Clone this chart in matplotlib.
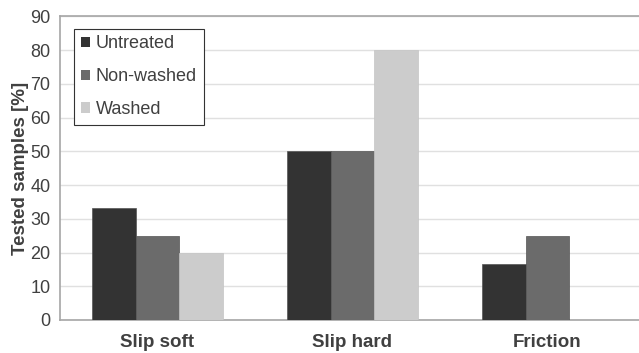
import numpy as np
import matplotlib.pyplot as plt
from matplotlib.patches import Patch

plt.rcParams['font.family'] = ['Liberation Sans', 'DejaVu Sans']

categories = ['Slip soft', 'Slip hard', 'Friction']
series = ['Untreated', 'Non-washed', 'Washed']
untreated = [33.3, 50, 16.7]
non_washed = [25, 50, 25]
washed = [20, 80, 0]
colors = ['#333333', '#6b6b6b', '#cccccc']

fig = plt.figure(figsize=(6.39, 3.53), dpi=100)
ax = fig.add_axes([0.0939, 0.0935, 0.915, 0.860])

x = np.arange(len(categories))
w = 0.223
for i, (vals, c) in enumerate(zip([untreated, non_washed, washed], colors)):
    ax.bar(x + (i - 1) * w, vals, w, color=c, edgecolor='#555555' if i < 2 else '#c4c4c4',
           linewidth=0.5, zorder=3)

ax.set_xlim(-0.5, 2.5)
ax.set_ylim(0, 90)
ax.set_yticks(range(0, 91, 10))
ax.yaxis.grid(True, color='#e0e0e0', linewidth=1.0, zorder=0)
ax.set_axisbelow(True)

for s in ['left', 'top', 'bottom']:
    ax.spines[s].set_color('#a6a6a6')
    ax.spines[s].set_linewidth(1.2)
ax.spines['right'].set_visible(False)

ax.tick_params(axis='y', length=0, labelsize=13, labelcolor='#404040', pad=7)
ax.tick_params(axis='x', length=0, pad=10)
ax.set_xticks(x)
ax.set_xticklabels(categories, fontsize=13.5, fontweight='bold', color='#404040')
ax.set_ylabel('Tested samples [%]', fontsize=13.5, fontweight='bold', color='#404040', labelpad=1)

handles = [Patch(facecolor=c, edgecolor='none') for c in colors]
leg = ax.legend(handles, series, loc='upper left', bbox_to_anchor=(0.0245, 0.96),
                fontsize=13, handlelength=0.5, handleheight=0.5, handletextpad=0.3,
                labelspacing=0.87, borderpad=0.38, borderaxespad=0,
                fancybox=False, framealpha=1)
leg.get_frame().set_edgecolor('#333333')
leg.get_frame().set_linewidth(0.8)
for t in leg.get_texts():
    t.set_color('#404040')

fig.savefig('out.png', dpi=100)
